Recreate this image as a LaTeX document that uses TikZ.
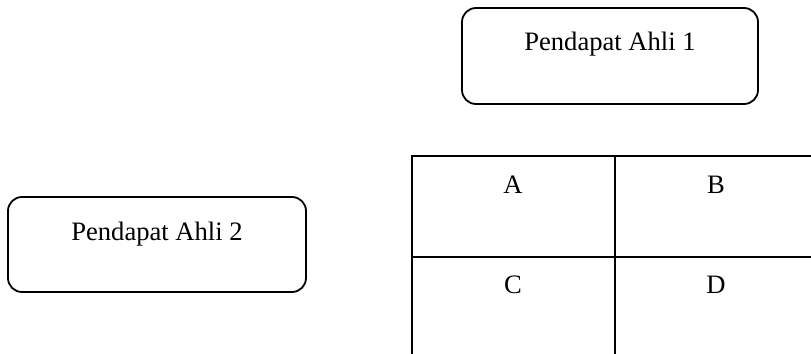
\documentclass[tikz,border=0pt]{standalone}
\usepackage{fontspec}
\setmainfont{Liberation Serif}
\usetikzlibrary{fit}
\tikzset{
  ahli/.style={draw, line width=0.9pt, rounded corners=7pt, inner sep=0pt},
  tabel/.style={draw, line width=0.9pt},
  tulisan/.style={anchor=base, inner sep=0pt, font=\fontsize{13.3pt}{15pt}\selectfont},
}
\begin{document}
\begin{tikzpicture}[x=0.5pt, y=-0.5pt]
  \useasboundingbox (0,0) rectangle (811,354);
  \clip (0,0) rectangle (811,354);

  % expert opinion boxes
  \node[ahli, fit={(462,8) (758,104)}] (ahli1) {};
  \node[tulisan] (ahli1t) at (610,50) {Pendapat Ahli 1};

  \node[ahli, fit={(8,197) (306,292)}] (ahli2) {};
  \node[tulisan] (ahli2t) at (157,240) {Pendapat Ahli 2};

  % 2x2 grid, open at the right and bottom edges
  \draw[tabel] (830,156) -- (412,156) -- (412,370);
  \draw[tabel] (412,257) -- (830,257);
  \draw[tabel] (615,156) -- (615,370);

  \node[tulisan] (selA) at (513,193) {A};
  \node[tulisan] (selB) at (716,193) {B};
  \node[tulisan] (selC) at (513,293) {C};
  \node[tulisan] (selD) at (716,293) {D};
\end{tikzpicture}
\end{document}
